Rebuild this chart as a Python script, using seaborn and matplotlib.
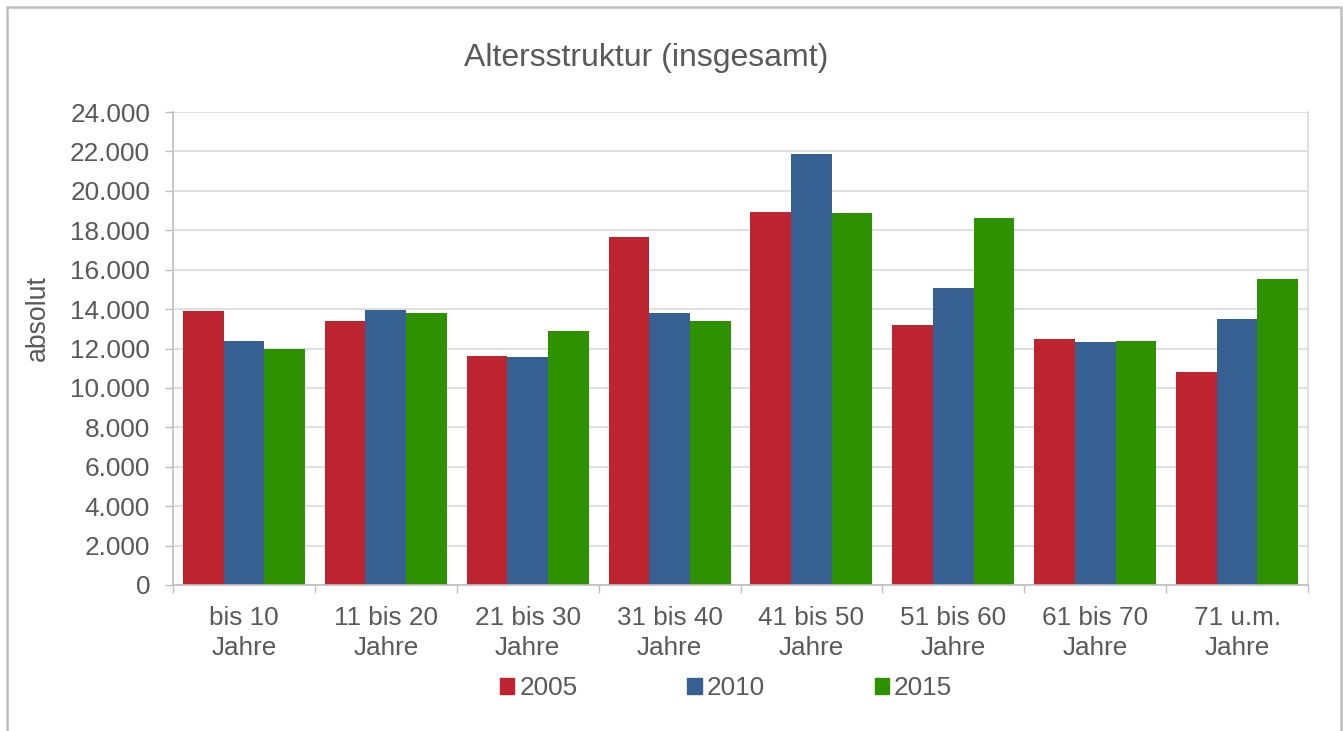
import matplotlib
matplotlib.use("Agg")
import matplotlib.pyplot as plt
import matplotlib.patches as mpatches
from matplotlib.ticker import FixedLocator, FuncFormatter
import seaborn as sns
import pandas as pd

categories = ["bis 10\nJahre", "11 bis 20\nJahre", "21 bis 30\nJahre", "31 bis 40\nJahre",
              "41 bis 50\nJahre", "51 bis 60\nJahre", "61 bis 70\nJahre", "71 u.m.\nJahre"]
years = ["2005", "2010", "2015"]
v2005 = [13900, 13400, 11620, 17660, 18920, 13190, 12480, 10810]
v2010 = [12380, 13950, 11570, 13800, 21870, 15070, 12330, 13500]
v2015 = [11970, 13800, 12890, 13390, 18870, 18620, 12380, 15530]
colors = ["#BE2430", "#366092", "#2E9200"]
title = "Altersstruktur (insgesamt)"
ylabel = "absolut"

rows = []
for yr, vals in zip(years, [v2005, v2010, v2015]):
    for c, v in zip(categories, vals):
        rows.append({"Kategorie": c, "Jahr": yr, "Wert": v})
df = pd.DataFrame(rows)

sns.set_theme(style="white")
plt.rcParams["font.family"] = ["Liberation Sans", "DejaVu Sans"]
txt = "#595959"

W, H = 1343, 731
fig = plt.figure(figsize=(W / 100, H / 100), dpi=100)
ax = fig.add_axes([173 / W, 1 - 585 / H, (1308 - 173) / W, (585 - 112) / H])

sns.barplot(data=df, x="Kategorie", y="Wert", hue="Jahr", hue_order=years,
            order=categories, palette=colors, width=0.86, gap=0,
            saturation=1, linewidth=0, ax=ax, legend=False)

ax.set_ylim(0, 24000)
ax.set_xlim(-0.5, len(categories) - 0.5)
ax.yaxis.set_major_locator(FixedLocator(range(0, 24001, 2000)))
ax.yaxis.set_major_formatter(FuncFormatter(lambda v, p: f"{int(v):,}".replace(",", ".")))
ax.set_axisbelow(True)
ax.grid(axis="y", color="#D9D9D9", linewidth=1.2)
ax.grid(axis="x", visible=False)
ax.set_xlabel("")
ax.set_ylabel("")

ax.spines["top"].set_visible(False)
ax.spines["right"].set_color("#D9D9D9")
ax.spines["left"].set_color("#BFBFBF")
ax.spines["bottom"].set_color("#BFBFBF")
for s in ["left", "bottom", "right"]:
    ax.spines[s].set_linewidth(1.2)

ax.tick_params(axis="y", which="major", length=5.5, width=1.0, color="#BFBFBF",
               labelsize=18.8, labelcolor=txt, pad=11, left=True)
ax.tick_params(axis="x", which="major", length=0, labelsize=18.8, labelcolor=txt, pad=15)
ax.set_xticks(range(len(categories)))
ax.set_xticklabels(categories, linespacing=1.32)
ax.set_xticks([i - 0.5 for i in range(len(categories) + 1)], minor=True)
ax.tick_params(axis="x", which="minor", length=5.5, width=1.0, color="#BFBFBF", bottom=True)

fig.text(646 / W, 1 - 58 / H, title, ha="center", va="center", fontsize=23, color=txt)
fig.text(38 / W, 1 - 318 / H, ylabel, ha="center", va="center", rotation=90,
         fontsize=19.2, color=txt)

handles = [mpatches.Patch(color=c, label=y) for c, y in zip(colors, years)]
leg = fig.legend(handles=handles, loc="center", bbox_to_anchor=(726 / W, 1 - 688 / H),
                 ncol=3, frameon=False, fontsize=18.8, handlelength=0.55, handleheight=0.55,
                 handletextpad=0.2, columnspacing=4.2, borderaxespad=0)
for t in leg.get_texts():
    t.set_color(txt)

border = mpatches.Rectangle((7 / W, -0.05), (1341 - 7) / W, 1.05 - 7 / H,
                            transform=fig.transFigure, fill=False,
                            edgecolor="#BFBFBF", linewidth=1.8, clip_on=False)
fig.patches.append(border)

fig.savefig("out.png", dpi=100, facecolor="white")
